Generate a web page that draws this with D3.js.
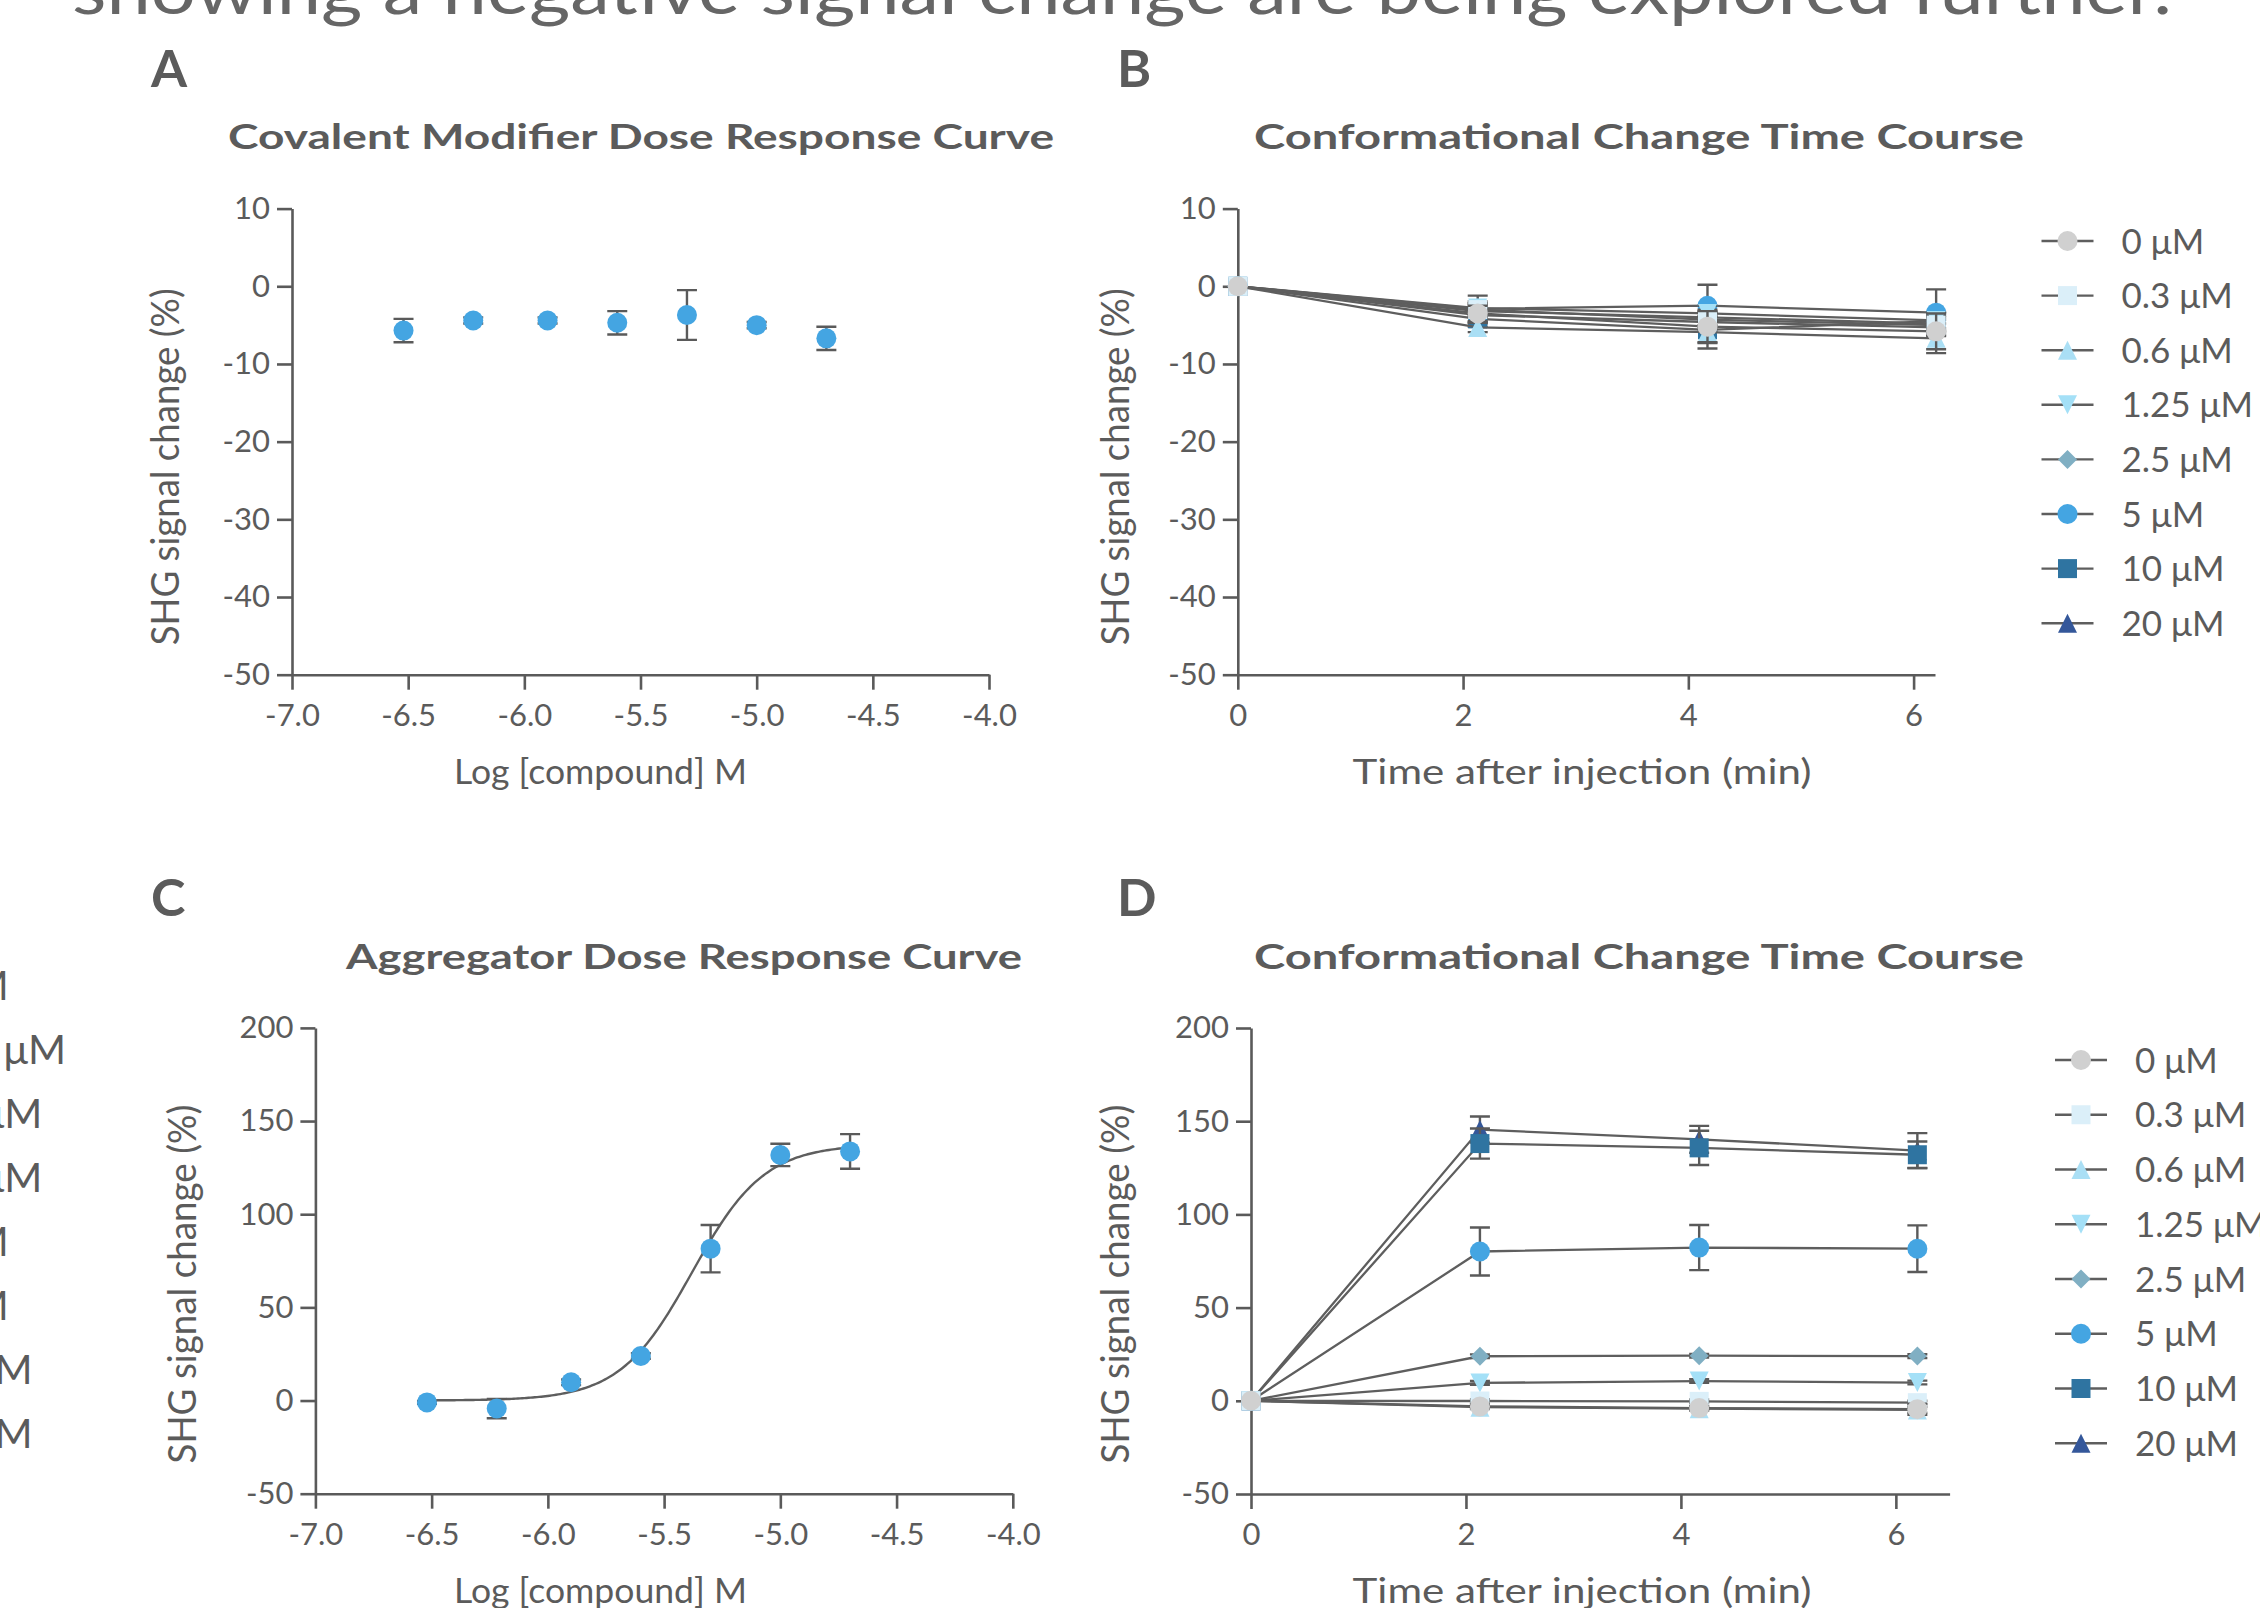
<!DOCTYPE html>
<html>
<head>
<meta charset="utf-8">
<script src="https://cdn.jsdelivr.net/npm/d3@7"></script>
<style>
  body { margin: 0; background: #fff; }
  svg text { font-family: Lato, "Open Sans", sans-serif; fill: #5b5b5b; }
</style>
</head>
<body>
<svg id="fig" width="2260" height="1608"></svg>
<script>
// ---- data ----
var concLabels = ["0 μM", "0.3 μM", "0.6 μM", "1.25 μM", "2.5 μM", "5 μM", "10 μM", "20 μM"];
var concColors = ["#d0d0d0", "#dbeff9", "#aadff5", "#a4e0f7", "#80afc3", "#44a5e2", "#2f74a1", "#34579a"];
var concShapes = ["circle", "square", "triangle", "triangleDown", "diamond", "circle", "square", "triangle"];

// log10 of 0.3 .. 20 uM
var logConc = [-6.52, -6.22, -5.90, -5.60, -5.30, -5.00, -4.70];
var covalentMean = [-5.7, -4.4, -4.4, -4.7, -3.7, -5.0, -6.7];
var covalentSem  = [1.5, 0.4, 0.4, 1.5, 3.2, 0.4, 1.5];
var aggregatorMean = [-1.0, -4.3, 9.8, 23.9, 81.5, 131.8, 133.7];
var aggregatorSem  = [0.8, 5.2, 1.5, 1.5, 12.7, 6.0, 9.3];

// 4PL fit shown in panel C
var fitBottom = 0, fitTop = 137.5, fitLogEC50 = -5.38, fitHill = 2.8;

var timePoints = [0, 2.13, 4.17, 6.2];
// panel B, one row per concentration
var conformB = [
    [0, -3.5, -5.2, -5.8],
    [0, -3.0, -4.3, -5.0],
    [0, -5.3, -5.9, -6.7],
    [0, -2.8, -3.5, -4.4],
    [0, -3.2, -4.0, -4.8],
    [0, -2.9, -2.5, -3.4],
    [0, -4.2, -5.6, -4.5],
    [0, -3.7, -4.6, -5.3]
];
var conformBSem = [
    [0, 1.0, 2.0, 2.3],
    [0, 0.8, 1.0, 1.0],
    [0, 0.6, 2.1, 1.9],
    [0, 0.85, 1.0, 1.0],
    [0, 0.8, 1.0, 1.0],
    [0, 1.7, 2.7, 3.0],
    [0, 0.6, 1.7, 1.2],
    [0, 1.5, 1.2, 1.0]
];
// panel D
var conformD = [
    [0, -3.0, -3.9, -4.5],
    [0, -0.1, -0.3, -1.0],
    [0, -3.4, -4.2, -4.9],
    [0, 9.6, 10.6, 9.8],
    [0, 23.9, 24.2, 24.0],
    [0, 80.1, 82.2, 81.6],
    [0, 138.0, 135.7, 132.0],
    [0, 145.5, 140.3, 134.2]
];
var conformDSem = [
    [0, 1.0, 1.0, 3.0],
    [0, 1.0, 1.0, 1.0],
    [0, 1.0, 1.0, 1.5],
    [0, 1.0, 1.0, 1.0],
    [0, 1.0, 1.0, 1.0],
    [0, 12.9, 12.1, 12.5],
    [0, 8.1, 9.2, 7.1],
    [0, 7.0, 7.2, 9.4]
];

var logTicks = [-7.0, -6.5, -6.0, -5.5, -5.0, -4.5, -4.0];
var timeTicks = [0, 2, 4, 6];
var yTicksTop = [10, 0, -10, -20, -30, -40, -50];
var yTicksBottom = [200, 150, 100, 50, 0, -50];

// cropped legend of the neighbouring figure at the left edge
var remnantLabels = ["0 μM", "1.25 μM", "0.3 μM", "0.6 μM", "2 μM", "5 μM", "10 μM", "20 μM"];

// ---- drawing ----
const axisColor = "#5a5a5a",
    lineColor = "#5e5e5e",
    pointBlue = "#44a5e2",
    capHalf = 10;

var svg = d3.select("#fig");

function shapePath(shape, s) {
    if (shape === "circle") {
        var r = s + 0.5;
        return "M" + (-r) + ",0a" + r + "," + r + " 0 1,0 " + (2 * r) + ",0a" + r + "," + r + " 0 1,0 " + (-2 * r) + ",0Z";
    }
    if (shape === "square") return "M" + (-s) + "," + (-s) + "h" + (2 * s) + "v" + (2 * s) + "h" + (-2 * s) + "Z";
    if (shape === "triangle") return "M0," + (-s) + "L" + s + "," + s + "L" + (-s) + "," + s + "Z";
    if (shape === "triangleDown") return "M0," + s + "L" + s + "," + (-s) + "L" + (-s) + "," + (-s) + "Z";
    return "M0," + (-s) + "L" + s + ",0L0," + s + "L" + (-s) + ",0Z";
}

function styleAxis(g) {
    g.attr("font-family", null).attr("font-size", null);
    g.select(".domain").attr("stroke", axisColor).attr("stroke-width", 2.6);
    g.selectAll(".tick line").attr("stroke", axisColor).attr("stroke-width", 2.6);
    g.selectAll(".tick text").style("font-size", "31px").attr("fill", "#5b5b5b");
}

function drawAxes(x, y, xTicks, yTicks, xFmt) {
    svg.append("g")
        .attr("transform", "translate(0," + y.range()[0] + ")")
        .call(d3.axisBottom(x).tickValues(xTicks).tickFormat(xFmt)
            .tickSize(15).tickSizeOuter(0).tickPadding(14))
        .call(styleAxis);
    svg.append("g")
        .attr("transform", "translate(" + x.range()[0] + ",0)")
        .call(d3.axisLeft(y).tickValues(yTicks).tickFormat(function(d) { return String(d); })
            .tickSize(15).tickSizeOuter(0).tickPadding(7))
        .call(styleAxis);
}

function errorBars(g, pts, x, y) {
    pts.filter(function(d) { return d.sem > 0; }).forEach(function(d) {
        var cx = x(d.x), y1 = y(d.v - d.sem), y2 = y(d.v + d.sem);
        var p = "M" + cx + "," + y1 + "V" + y2 +
            "M" + (cx - capHalf) + "," + y1 + "h" + (2 * capHalf) +
            "M" + (cx - capHalf) + "," + y2 + "h" + (2 * capHalf);
        g.append("path").attr("d", p).attr("fill", "none")
            .attr("stroke", axisColor).attr("stroke-width", 2.4);
    });
}

function label(txt, x, y, size, weight, len) {
    var t = svg.append("text").attr("x", x).attr("y", y)
        .style("font-size", size + "px").style("font-weight", weight).text(txt);
    if (len) t.attr("textLength", len).attr("lengthAdjust", "spacingAndGlyphs");
    return t;
}

function yTitle(x, y, len) {
    svg.append("text")
        .attr("transform", "translate(" + x + "," + y + ") rotate(-90)")
        .style("font-size", "38px")
        .attr("textLength", len).attr("lengthAdjust", "spacingAndGlyphs")
        .text("SHG signal change (%)");
}

// dose response panels (A and C)
function dosePanel(xr, yr, yDomain, yTicks, mean, sem, withFit) {
    var x = d3.scaleLinear().domain([-7, -4]).range(xr);
    var y = d3.scaleLinear().domain(yDomain).range(yr);
    drawAxes(x, y, logTicks, yTicks, function(d) { return d.toFixed(1); });
    var g = svg.append("g");
    var pts = logConc.map(function(c, i) { return {x: c, v: mean[i], sem: sem[i]}; });
    if (withFit) {
        var xs = d3.range(0, 201).map(function(i) { return logConc[0] + (logConc[6] - logConc[0]) * i / 200; });
        var fit = xs.map(function(c) {
            return {x: c, v: fitBottom + (fitTop - fitBottom) / (1 + Math.pow(10, (fitLogEC50 - c) * fitHill))};
        });
        g.append("path").datum(fit)
            .attr("d", d3.line().x(function(d) { return x(d.x); }).y(function(d) { return y(d.v); }))
            .attr("fill", "none").attr("stroke", lineColor).attr("stroke-width", 2.4);
    }
    errorBars(g, pts, x, y);
    g.selectAll("path.pt").data(pts).enter().append("path")
        .attr("class", "pt")
        .attr("d", shapePath("circle", 9.5))
        .attr("transform", function(d) { return "translate(" + x(d.x) + "," + y(d.v) + ")"; })
        .attr("fill", pointBlue);
}

// time course panels (B and D)
function timePanel(xr, xMax, yr, yDomain, yTicks, values, sems, legX, legY0, legStep) {
    var x = d3.scaleLinear().domain([0, xMax]).range(xr);
    var y = d3.scaleLinear().domain(yDomain).range(yr);
    drawAxes(x, y, timeTicks, yTicks, function(d) { return String(d); });
    var line = d3.line().x(function(d) { return x(d.x); }).y(function(d) { return y(d.v); });
    var g = svg.append("g");
    // first series ends up on top, so draw in reverse
    for (var s = values.length - 1; s >= 0; s--) {
        var pts = timePoints.map(function(t, i) { return {x: t, v: values[s][i], sem: sems[s][i]}; });
        g.append("path").datum(pts).attr("d", line)
            .attr("fill", "none").attr("stroke", lineColor).attr("stroke-width", 2.3);
        errorBars(g, pts, x, y);
        g.selectAll(null).data(pts).enter().append("path")
            .attr("d", shapePath(concShapes[s], 9.5))
            .attr("transform", function(d) { return "translate(" + x(d.x) + "," + y(d.v) + ")"; })
            .attr("fill", concColors[s]);
    }
    // legend
    var leg = svg.append("g");
    concLabels.forEach(function(lab, i) {
        var ly = legY0 + i * legStep;
        leg.append("line").attr("x1", legX - 26).attr("x2", legX + 26)
            .attr("y1", ly).attr("y2", ly)
            .attr("stroke", lineColor).attr("stroke-width", 2.4);
        leg.append("path").attr("d", shapePath(concShapes[i], 9.5))
            .attr("transform", "translate(" + legX + "," + ly + ")")
            .attr("fill", concColors[i]);
        leg.append("text").attr("x", legX + 54).attr("y", ly + 12.5)
            .style("font-size", "35px").text(lab);
    });
}

// header text cut by the page edge
label("showing a negative signal change are being explored further.", 72, 14, 68, 400, 2100)
    .style("fill", "#666");

// panel letters
label("A", 151, 87, 52, 700);
label("B", 1117, 87, 52, 700);
label("C", 151, 916, 52, 700);
label("D", 1117, 916, 52, 700);

// titles
label("Covalent Modifier Dose Response Curve", 228, 149, 35, 700, 826);
label("Conformational Change Time Course", 1254, 149, 35, 700, 770);
label("Aggregator Dose Response Curve", 346, 969, 35, 700, 676);
label("Conformational Change Time Course", 1254, 969, 35, 700, 770);

dosePanel([292, 989], [674.7, 208.6], [-50, 10], yTicksTop, covalentMean, covalentSem, false);
dosePanel([315.4, 1012.8], [1493.7, 1027.9], [-50, 200], yTicksBottom, aggregatorMean, aggregatorSem, true);
timePanel([1237.8, 1935], 6.19, [674.7, 208.6], [-50, 10], yTicksTop, conformB, conformBSem, 2067.5, 241, 54.6);
timePanel([1251, 1949.6], 6.5, [1494, 1028], [-50, 200], yTicksBottom, conformD, conformDSem, 2081, 1060, 54.75);

// axis titles
label("Log [compound] M", 454, 784, 35, 400, 293);
label("Time after injection (min)", 1352.6, 784, 35, 400, 459);
label("Log [compound] M", 454, 1603, 35, 400, 293);
label("Time after injection (min)", 1352.6, 1603, 35, 400, 459);
yTitle(178.5, 645.3, 357);
yTitle(1129, 645.3, 357);
yTitle(196, 1463.4, 358.7);
yTitle(1129, 1463.4, 358.7);

// remnant legend at the left edge
remnantLabels.forEach(function(lab, i) {
    label(lab, -88, 1000 + i * 64, 41, 400);
});
</script>
</body>
</html>
